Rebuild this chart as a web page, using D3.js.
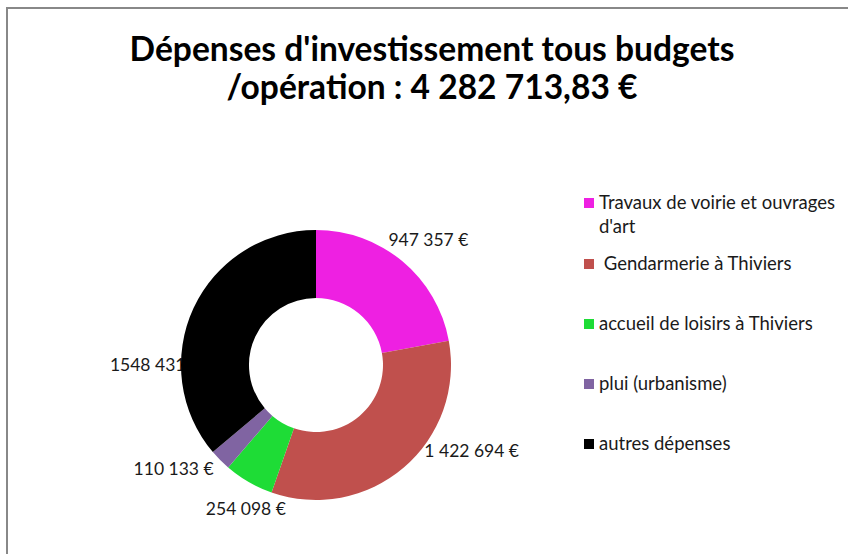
<!DOCTYPE html>
<html>
<head>
<meta charset="utf-8">
<script src="https://cdn.jsdelivr.net/npm/d3@7"></script>
<style>
  body { margin: 0; background: #fff; }
</style>
</head>
<body>
<div id="chart"></div>
<script>
const categories = ["Travaux de voirie et ouvrages d'art", " Gendarmerie à Thiviers", "accueil de loisirs à Thiviers", "plui (urbanisme)", "autres dépenses"];
const values = [947357, 1422694, 254098, 110133, 1548431];
const valueLabels = ["947 357 €", "1 422 694 €", "254 098 €", "110 133 €", "1548 431 €"];
const colors = ["#EE20E2", "#C0504D", "#1EDC36", "#8064A2", "#000000"];
const titleLines = ["Dépenses d'investissement tous budgets", "/opération : 4 282 713,83 €"];

const width = 848, height = 554;
const font = "Lato, 'Open Sans', sans-serif";

const svg = d3.select("#chart")
  .append("svg")
  .attr("width", width)
  .attr("height", height)
  .style("display", "block");

// frame
svg.append("rect")
  .attr("x", 7)
  .attr("y", 8)
  .attr("width", 900)
  .attr("height", 600)
  .attr("fill", "#fff")
  .attr("stroke", "#888")
  .attr("stroke-width", 2);

// title (a bit condensed, like the original Calibri)
const title = svg.append("g")
  .attr("transform", "translate(432,0)");
title.selectAll("text")
  .data(titleLines)
  .join("text")
  .text(d => d)
  .attr("x", 0)
  .attr("y", (d, i) => 61 + i * 38)
  .attr("text-anchor", "middle")
  .attr("font-family", font)
  .attr("font-weight", 700)
  .attr("font-size", 34)
  .attr("fill", "#000");

const w0 = title.select("text").node().getComputedTextLength();
title.attr("transform", `translate(432,0) scale(${605 / w0},1)`);

// donut
const cx = 316, cy = 365;
const pie = d3.pie().sort(null).value(d => d);
const arcs = pie(values);
const arc = d3.arc().innerRadius(67).outerRadius(135);

const chart = svg.append("g")
  .attr("transform", `translate(${cx},${cy})`);

// labels sit where they were placed in the original (angle in degrees, radius)
const labelPolar = [[42, 168], [119, 178], [206, 160], [234, 176], [270, 161]];

chart.selectAll(".value-label")
  .data(arcs)
  .join("text")
  .attr("class", "value-label")
  .text((d, i) => valueLabels[i])
  .attr("x", (d, i) => labelPolar[i][1] * Math.sin(labelPolar[i][0] * Math.PI / 180))
  .attr("y", (d, i) => -labelPolar[i][1] * Math.cos(labelPolar[i][0] * Math.PI / 180))
  .attr("dy", "0.35em")
  .attr("text-anchor", "middle")
  .attr("font-family", font)
  .attr("font-size", 17.5)
  .attr("fill", "#1a1a1a");

chart.selectAll("path")
  .data(arcs)
  .join("path")
  .attr("d", arc)
  .attr("fill", (d, i) => colors[i]);

// legend
const legendRows = [203, 264, 324, 384, 444];
const legend = svg.append("g")
  .attr("transform", "translate(584,0)");

const item = legend.selectAll("g")
  .data(categories)
  .join("g")
  .attr("transform", (d, i) => `translate(0,${legendRows[i]})`);

item.append("rect")
  .attr("x", 0)
  .attr("y", -5)
  .attr("width", 10)
  .attr("height", 10)
  .attr("fill", (d, i) => colors[i]);

item.append("text")
  .attr("x", 15)
  .attr("dy", "0.35em")
  .attr("font-family", font)
  .attr("font-size", 18.5)
  .attr("fill", "#1a1a1a")
  .style("white-space", "pre")
  .each(function(d) {
    const t = d3.select(this);
    if (d.startsWith("Travaux")) {
      t.append("tspan").text("Travaux de voirie et ouvrages");
      t.append("tspan").attr("x", 15).attr("dy", 24).text("d'art");
    } else {
      t.text(d);
    }
  });
</script>
</body>
</html>
